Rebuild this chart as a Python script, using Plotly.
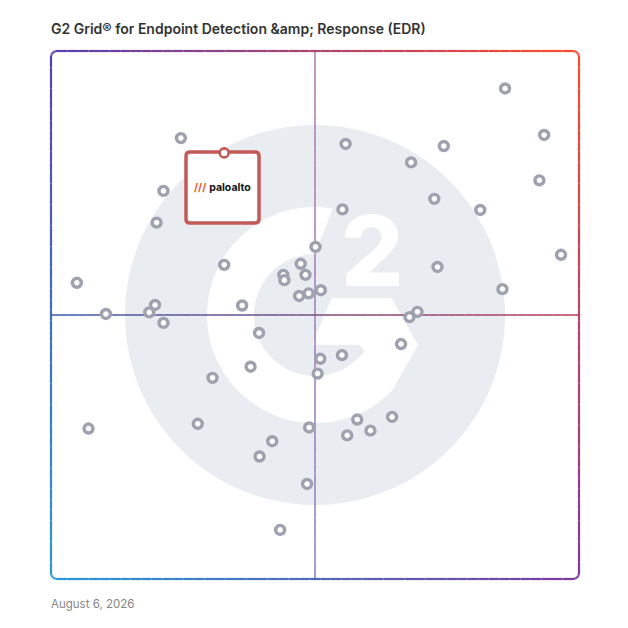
import numpy as np
import plotly.graph_objects as go

# vendor positions on the grid (0-100 both ways, 50 = quadrant split)
vendor_x = [24.6, 55.8, 74.4, 68.2, 21.3, 72.6, 81.3, 55.2, 20.0, 50.1,
            32.8, 47.3, 73.2, 44.0, 44.2, 48.2, 85.5, 51.1, 48.8, 47.0,
            36.2, 19.7, 18.6, 69.4, 67.9, 21.3, 39.4, 66.3, 55.1, 51.0,
            50.5, 37.8, 30.6, 27.8, 64.6, 58.0, 60.5, 56.1, 48.9, 41.9,
            39.5, 48.5, 86.0, 93.4, 92.5, 96.6, 4.9, 10.4, 7.1, 43.4]
vendor_y = [83.5, 82.4, 82.0, 78.9, 73.5, 72.0, 69.9, 70.0, 67.5, 62.9,
            59.5, 59.7, 59.1, 57.6, 56.6, 57.6, 54.9, 54.7, 54.1, 53.6,
            51.8, 51.9, 50.5, 50.6, 49.6, 48.5, 46.6, 44.5, 42.4, 41.7,
            38.9, 40.2, 38.1, 29.4, 30.7, 30.2, 28.1, 27.2, 28.7, 26.1,
            23.2, 18.0, 92.9, 84.1, 75.5, 61.4, 56.1, 50.2, 28.5, 9.3]

palo_x = [32.8]
palo_y = [80.7]

title_text = "G2 Grid® for Endpoint Detection &amp;amp; Response (EDR)"
date_text = "August 6, 2026"

# page body has an 8px margin, so the figure is drawn 8px smaller/offset
PAD = 8
W = 628 - PAD
L, T, SIDE = 51, 51, 528
K = SIDE / 100.0


def to_data(px, py):
    return (px - L) / K, (T + SIDE - py) / K


def to_paper(px, py):
    return (px - L) / SIDE, (T + SIDE - py) / SIDE


def mix(a, b, t):
    return tuple(a[i] + (b[i] - a[i]) * t for i in range(3))


def rgb(c):
    return "rgb(%d,%d,%d)" % tuple(int(round(v)) for v in c)


TL = (88, 62, 178)
TR = (255, 74, 42)
BL = (40, 152, 216)
BR = (122, 58, 156)


def field(px, py):
    u = min(max((px - L) / SIDE, 0), 1)
    v = min(max((py - T) / SIDE, 0), 1)
    return mix(mix(TL, TR, u), mix(BL, BR, u), v)


def path_from(points, close=True):
    s = "M " + " L ".join("%.3f,%.3f" % p for p in points)
    return s + (" Z" if close else "")


shapes = []

# G2 watermark
cx, cy = 50, 50
disc_r = 190 / K
shapes.append(dict(type="circle", xref="x", yref="y", x0=cx - disc_r, x1=cx + disc_r,
                   y0=cy - disc_r, y1=cy + disc_r, fillcolor="#e9ecf0",
                   line=dict(width=0), layer="below"))
r_out, r_in = 108 / K, 61 / K
ring = []
for a in np.linspace(80.5, 315.4, 120):
    ring.append((cx + r_out * np.cos(np.radians(a)), cy + r_out * np.sin(np.radians(a))))
for a in np.linspace(323.8, 90, 120):
    ring.append((cx + r_in * np.cos(np.radians(a)), cy + r_in * np.sin(np.radians(a))))
shapes.append(dict(type="path", xref="x", yref="y", path=path_from(ring),
                   fillcolor="white", line=dict(width=0), layer="below"))
chev = [to_data(*p) for p in [(312, 345), (331.7, 298.3), (391.7, 298.3),
                              (418, 345), (392, 391), (360, 345)]]
shapes.append(dict(type="path", xref="x", yref="y", path=path_from(chev),
                   fillcolor="white", line=dict(width=0), layer="below"))


def add_gradient_line(pts, colors, width, ref, layer):
    conv = to_data if ref == "x" else to_paper
    for i in range(len(pts) - 1):
        (x0, y0), (x1, y1) = conv(*pts[i]), conv(*pts[i + 1])
        shapes.append(dict(type="line", xref=ref, yref="y" if ref == "x" else "paper",
                           x0=x0, y0=y0, x1=x1, y1=y1,
                           line=dict(color=rgb(colors[i]), width=width), layer=layer))


# quadrant lines
n = 60
vpts = [(L + SIDE / 2, T + SIDE * i / n) for i in range(n + 1)]
vcol = [mix((186, 126, 176), (138, 132, 202), (i + 0.5) / n) for i in range(n)]
add_gradient_line(vpts, vcol, 1.6, "x", "below")
hpts = [(L + SIDE * i / n, T + SIDE / 2) for i in range(n + 1)]
hcol = [mix((66, 98, 182), (192, 68, 92), (i + 0.5) / n) for i in range(n)]
add_gradient_line(hpts, hcol, 1.6, "x", "below")

# Palo Alto highlight box
bx0, by0, bx1, by1, br = 186, 152, 259, 223, 4
box = [("M", (bx0 + br, by0)), ("L", (bx1 - br, by0)), ("Q", (bx1, by0), (bx1, by0 + br)),
       ("L", (bx1, by1 - br)), ("Q", (bx1, by1), (bx1 - br, by1)), ("L", (bx0 + br, by1)),
       ("Q", (bx0, by1), (bx0, by1 - br)), ("L", (bx0, by0 + br)),
       ("Q", (bx0, by0), (bx0 + br, by0))]
bpath = ""
for cmd in box:
    bpath += cmd[0] + " " + " ".join("%.3f,%.3f" % to_data(*p) for p in cmd[1:]) + " "
shapes.append(dict(type="path", xref="x", yref="y", path=bpath + "Z", fillcolor="white",
                   line=dict(color="#c35a58", width=3.5), layer="below"))

# rounded gradient frame
rc = 6
frame = []
def corner(cxp, cyp, a0, a1):
    for a in np.linspace(a0, a1, 8):
        frame.append((cxp + rc * np.cos(np.radians(a)), cyp + rc * np.sin(np.radians(a))))
R, B = L + SIDE, T + SIDE
for t in np.linspace(L + rc, R - rc, 50):
    frame.append((t, T))
corner(R - rc, T + rc, -90, 0)
for t in np.linspace(T + rc, B - rc, 50):
    frame.append((R, t))
corner(R - rc, B - rc, 0, 90)
for t in np.linspace(R - rc, L + rc, 50):
    frame.append((t, B))
corner(L + rc, B - rc, 90, 180)
for t in np.linspace(B - rc, T + rc, 50):
    frame.append((L, t))
corner(L + rc, T + rc, 180, 270)
frame.append(frame[0])
fcol = [field((frame[i][0] + frame[i + 1][0]) / 2, (frame[i][1] + frame[i + 1][1]) / 2)
        for i in range(len(frame) - 1)]
add_gradient_line(frame, fcol, 2.2, "paper", "above")

fig = go.Figure()
fig.add_trace(go.Scatter(x=vendor_x, y=vendor_y, mode="markers", hoverinfo="skip",
                         marker=dict(size=9, color="white", line=dict(color="#9da2ae", width=3.4))))
fig.add_trace(go.Scatter(x=palo_x, y=palo_y, mode="markers", hoverinfo="skip",
                         marker=dict(size=9, color="white", line=dict(color="#c35a58", width=2.6))))

annotations = [
    dict(text=title_text, xref="paper", yref="paper", x=-2 / SIDE, y=(T + SIDE - 29) / SIDE,
         xanchor="left", yanchor="middle", showarrow=False,
         font=dict(family="Inter", size=14, color="#333333", weight=600)),
    dict(text=date_text, xref="paper", yref="paper", x=-2 / SIDE, y=(T + SIDE - 604) / SIDE,
         xanchor="left", yanchor="middle", showarrow=False,
         font=dict(family="Inter", size=11.5, color="#858585")),
    dict(text="2", xref="x", yref="y", x=to_data(372, 250)[0], y=to_data(372, 250)[1],
         xanchor="center", yanchor="middle", showarrow=False,
         font=dict(family="Inter", size=98, color="white", weight=800)),
    dict(text="<span style='color:#f5542a'><b>///</b></span> <b>paloalto</b>",
         xref="x", yref="y", x=to_data(222.5, 187)[0], y=to_data(222.5, 187)[1],
         xanchor="center", yanchor="middle", showarrow=False,
         font=dict(family="Inter", size=10.5, color="#111111")),
]

fig.update_layout(
    width=W, height=W,
    margin=dict(l=L - PAD, r=W - (L - PAD) - SIDE, t=T - PAD, b=W - (T - PAD) - SIDE),
    paper_bgcolor="white", plot_bgcolor="white",
    xaxis=dict(range=[0, 100], visible=False, fixedrange=True),
    yaxis=dict(range=[0, 100], visible=False, fixedrange=True),
    showlegend=False,
    shapes=shapes,
    annotations=annotations,
)

fig.write_html("out.html")
